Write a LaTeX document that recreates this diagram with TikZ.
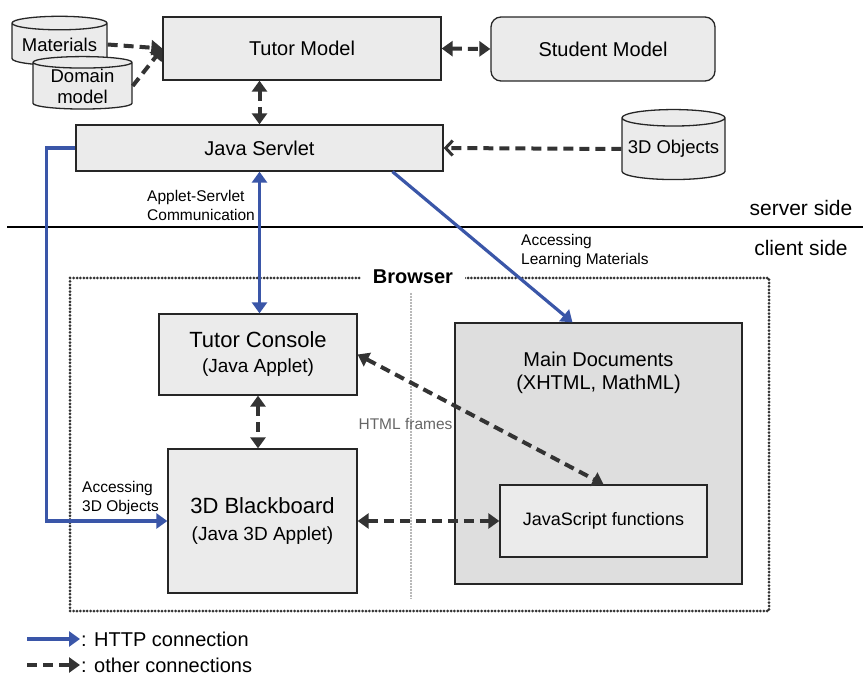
\documentclass[tikz,border=0pt]{standalone}
\usepackage{fontspec}
\setmainfont{Liberation Sans}
\usetikzlibrary{shapes.geometric,arrows.meta,positioning}

\definecolor{boxgray}{HTML}{EBEBEB}
\definecolor{docgray}{HTML}{DEDEDE}
\definecolor{httpblue}{HTML}{3A56A8}
\definecolor{dashgray}{HTML}{333333}

\tikzset{
	>={Triangle[length=11pt,width=15pt]},
	comp/.style={draw=black!85, line width=1.3pt, fill=boxgray, align=center, inner sep=2pt},
	store/.style={cylinder, shape border rotate=90, aspect=0.18, draw=black!85, line width=1.3pt, fill=boxgray, align=center, inner sep=0pt, font=\fontsize{18.5}{21}\selectfont},
	http/.style={draw=httpblue, line width=3.2pt, ->},
	other/.style={draw=dashgray, line width=4pt, dash pattern=on 10pt off 6pt, ->},
	note/.style={anchor=west, inner sep=0pt, align=left, font=\fontsize{15.5}{19}\selectfont},
	mid/.style={font=\fontsize{20}{23}\selectfont},
}

\begin{document}
\begin{tikzpicture}[x=1pt, y=-1pt]
	%\draw[help lines] (0,0) grid (863,676);
	\useasboundingbox (0,0) rectangle (863,676);

	% server side
	\node[comp, mid, minimum width=278pt, minimum height=63pt] (tutorModel) at (302,48.5) {Tutor Model};
	\node[comp, mid, rounded corners=10pt, minimum width=224pt, minimum height=64pt] (studentModel) at (603,49) {Student Model};
	\node[store, minimum width=95pt, minimum height=49pt] (materials) at (59.5,44.5) {Materials};
	\node[store, minimum width=99pt, minimum height=39pt] (domain) at (82.5,86) {Domain\\model};
	\node[comp, mid, minimum width=367pt, minimum height=46pt] (servlet) at (259.5,148) {Java Servlet};
	\node[store, minimum width=103pt, minimum height=70pt] (objects) at (673.5,149) {3D Objects};

	% dividing line
	\draw[line width=2.8pt] (7,227) -- (863,227);
	\node[font=\fontsize{21}{25}\selectfont] (serverSide) at (801,208) {server side};
	\node[font=\fontsize{21}{25}\selectfont] (clientSide) at (801,248) {client side};

	% browser
	\draw[line width=3pt, line cap=round, dash pattern=on 0pt off 3.4pt, black!80] (70,278) rectangle (769,611);
	\draw[line width=2.4pt, gray!55, dash pattern=on 1pt off 0.5pt] (411,293) -- (411,598);
	\node[fill=white, inner xsep=12pt, inner ysep=2pt, font=\bfseries\fontsize{20}{24}\selectfont] (browser) at (413,277) {Browser};
	\node[text=black!60, inner sep=0pt, font=\fontsize{15.5}{19}\selectfont] (frames) at (405.5,424) {HTML frames};

	\node[comp, font=\fontsize{19}{25}\selectfont, minimum width=198pt, minimum height=81pt] (console) at (258,354.5) {{\fontsize{22}{25}\selectfont Tutor Console}\\(Java Applet)};
	\node[comp, font=\fontsize{19}{26}\selectfont, minimum width=189pt, minimum height=144pt] (blackboard) at (262.5,521) {{\fontsize{22}{26}\selectfont 3D Blackboard}\\[1pt](Java 3D Applet)};
	\node[comp, fill=docgray, minimum width=287pt, minimum height=261pt] (mainDocs) at (598.5,453.5) {};
	\node[align=center, mid, below=29pt of mainDocs.north, inner sep=0pt] (docsTitle) {Main Documents\\(XHTML, MathML)};
	\node[comp, font=\fontsize{18}{22}\selectfont, minimum width=207pt, minimum height=72pt] (jsFun) at (603.5,521) {JavaScript functions};

	% connections
	\draw[other] (materials.east) -- (tutorModel.west);
	\draw[other] (domain.east) -- (tutorModel.west);
	\draw[other, <->] (tutorModel.east) -- (studentModel.west);
	\draw[other, <->] (tutorModel.south -| servlet.north) -- (servlet.north);
	\draw[other, -{Straight Barb[length=7pt,width=15pt,line width=3pt]}] (objects.west) -- (servlet.east);
	\foreach \a/\b in {console.south/console.south |- blackboard.north, console.east/jsFun.north, blackboard.east/jsFun.west}
		\draw[other, <->] (\a) -- (\b);

	\draw[http, <->] (servlet.south) -- (servlet.south |- console.north);
	\draw[http] (servlet.west) -- ++(-29,0) |- (blackboard.west);
	\draw[http] ([xshift=133pt]servlet.south) -- ([xshift=-26pt]mainDocs.north);

	\node[note] (appletServlet) at (147,205.5) {Applet-Servlet\\Communication};
	\node[note] (learning) at (521,250.5) {Accessing\\Learning Materials};
	\node[note] (access3d) at (82,497.5) {Accessing\\3D Objects};

	% legend
	\node[anchor=west, inner sep=1pt, font=\fontsize{20}{23}\selectfont] (httpKey) at (80,639) {: HTTP connection};
	\node[anchor=west, inner sep=1pt, font=\fontsize{20}{23}\selectfont] (otherKey) at (80,665) {: other connections};
	\coordinate (httpStart) at (27,639);
	\coordinate (otherStart) at (27,665);
	\draw[http] (httpStart) -- (httpKey.west);
	\draw[other] (otherStart) -- (otherKey.west);
\end{tikzpicture}
\end{document}
